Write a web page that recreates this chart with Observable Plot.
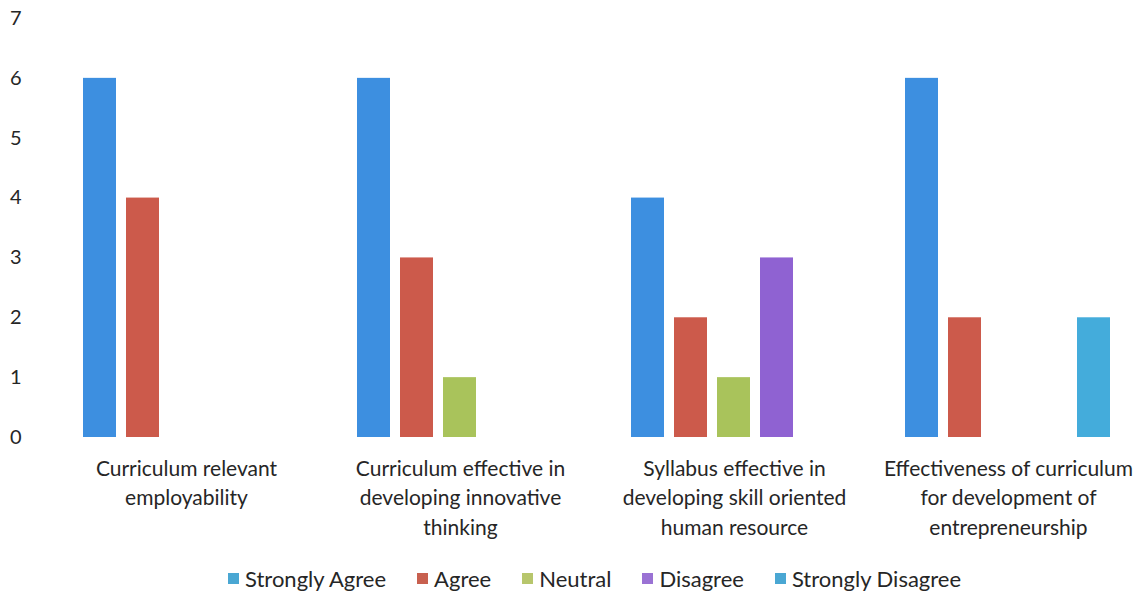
<!DOCTYPE html>
<html>
<head>
<meta charset="utf-8">
<script src="https://cdn.jsdelivr.net/npm/d3@7"></script>
<script src="https://cdn.jsdelivr.net/npm/@observablehq/plot@0.6"></script>
<style>
  html, body { margin: 0; padding: 0; background: #fff; }
  body { width: 1146px; height: 594px; overflow: hidden; font-family: Lato, "Open Sans", sans-serif; }
  #legend { position: absolute; left: 228px; top: 562px; display: flex; align-items: center; height: 32px; font-size: 22px; color: #262626; white-space: nowrap; }
  #legend span.item { display: flex; align-items: center; margin-right: 31px; }
  #legend span.sw { width: 11px; height: 11px; display: inline-block; margin-right: 6px; }
</style>
</head>
<body>
<div id="chart"></div>
<div id="legend"></div>
<script>
const categories = [
  "Curriculum relevant\nemployability",
  "Curriculum effective in\ndeveloping innovative\nthinking",
  "Syllabus effective in\ndeveloping skill oriented\nhuman resource",
  "Effectiveness of curriculum\nfor development of\nentrepreneurship"
];
const seriesNames = ["Strongly Agree", "Agree", "Neutral", "Disagree", "Strongly Disagree"];
const stronglyAgree = [6, 6, 4, 6];
const agree = [4, 3, 2, 2];
const neutral = [0, 1, 1, 0];
const disagree = [0, 0, 3, 0];
const stronglyDisagree = [0, 0, 0, 2];
const barColors = ["#3d8fe0", "#cc5a4b", "#a9c35b", "#8f62d2", "#44acdb"];
const legendColors = ["#4aa7d3", "#c8604f", "#b7c66c", "#9a72d4", "#4aa7d3"];
const yTicks = [0, 1, 2, 3, 4, 5, 6, 7];

const seriesValues = [stronglyAgree, agree, neutral, disagree, stronglyDisagree];
const data = [];
categories.forEach((c, i) => {
  seriesNames.forEach((s, j) => {
    data.push({category: c, series: s, value: seriesValues[j][i]});
  });
});

const chart = Plot.plot({
  width: 1146,
  height: 558,
  marginLeft: 48,
  marginRight: 0,
  marginTop: 18,
  marginBottom: 121,
  style: {fontFamily: "Lato, 'Open Sans', sans-serif", color: "#262626", background: "#fff"},
  fx: {domain: categories, padding: 0, label: null},
  x: {domain: seriesNames, paddingInner: 0.23, paddingOuter: 0.74, axis: null},
  y: {domain: [0, 7], label: null},
  color: {domain: seriesNames, range: barColors},
  marks: [
    Plot.barY(data.filter(d => d.value > 0), {fx: "category", x: "series", y: "value", fill: "series"}),
    Plot.axisY({ticks: yTicks, tickSize: 0, tickPadding: 28, fontSize: 20, label: null, tickFormat: d => String(d)}),
    Plot.axisFx({anchor: "bottom", tickSize: 0, tickPadding: 18, fontSize: 21, lineHeight: 1.39, lineAnchor: "top", textAnchor: "middle", label: null})
  ]
});
document.getElementById("chart").appendChild(chart);

const legend = document.getElementById("legend");
seriesNames.forEach((s, i) => {
  const item = document.createElement("span");
  item.className = "item";
  const sw = document.createElement("span");
  sw.className = "sw";
  sw.style.background = legendColors[i];
  const t = document.createElement("span");
  t.textContent = s;
  item.appendChild(sw);
  item.appendChild(t);
  legend.appendChild(item);
});
</script>
</body>
</html>
